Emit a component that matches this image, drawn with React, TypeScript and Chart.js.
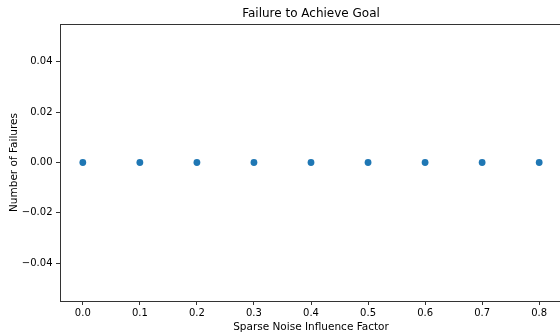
import React, { useEffect, useRef } from "react";
import { Chart, registerables } from "chart.js";

Chart.register(...registerables);

const noiseFactors = [0.0, 0.1, 0.2, 0.3, 0.4, 0.5, 0.6, 0.7, 0.8];
const failures = [0, 0, 0, 0, 0, 0, 0, 0, 0];
const xTicks = [0.0, 0.1, 0.2, 0.3, 0.4, 0.5, 0.6, 0.7, 0.8];
const yTicks = [-0.04, -0.02, 0.0, 0.02, 0.04];

const FONT = "'DejaVu Sans', sans-serif";
const INK = "#333333";

const framePlugin = {
  id: "frame",
  afterDraw(chart: any) {
    const { ctx, chartArea } = chart;
    ctx.save();
    ctx.strokeStyle = INK;
    ctx.lineWidth = 1;
    ctx.beginPath();
    ctx.moveTo(chartArea.left, chartArea.top + 0.5);
    ctx.lineTo(chartArea.right, chartArea.top + 0.5);
    ctx.moveTo(chartArea.right - 0.5, chartArea.top);
    ctx.lineTo(chartArea.right - 0.5, chartArea.bottom);
    ctx.stroke();
    ctx.restore();
  },
};

export default function App() {
  const ref = useRef<HTMLCanvasElement>(null);
  useEffect(() => {
    if (!ref.current) return;
    const chart = new Chart(ref.current, {
      type: "scatter",
      data: {
        datasets: [
          {
            data: noiseFactors.map((x, i) => ({ x, y: failures[i] })),
            backgroundColor: "#1f77b4",
            borderColor: "#1f77b4",
            pointRadius: 3.4,
            borderWidth: 0,
          },
        ],
      },
      options: {
        animation: false,
        responsive: false,
        maintainAspectRatio: false,
        layout: { padding: { left: 0, right: 38, top: 0, bottom: 0 } },
        plugins: {
          legend: { display: false },
          tooltip: { enabled: false },
          title: { display: false },
        },
        scales: {
          x: {
            type: "linear",
            min: -0.04,
            max: 0.84,
            afterBuildTicks: (s: any) => {
              s.ticks = xTicks.map((v) => ({ value: v }));
            },
            afterFit: (s: any) => {
              s.height = 34;
            },
            ticks: {
              color: "#000",
              font: { family: FONT, size: 10 },
              padding: 2,
              maxRotation: 0,
              autoSkip: false,
              callback: (v: any) => Number(v).toFixed(1),
            },
            grid: {
              drawOnChartArea: false,
              drawTicks: true,
              tickLength: 4,
              tickColor: INK,
              tickWidth: 1,
            },
            border: { display: true, color: INK, width: 1 },
            title: {
              display: true,
              text: "Sparse Noise Influence Factor",
              color: "#000",
              font: { family: FONT, size: 10.5 },
              padding: { top: 0, bottom: 1.5 },
            },
          },
          xTop: {
            type: "linear",
            position: "top",
            min: -0.04,
            max: 0.84,
            afterFit: (s: any) => {
              s.height = 24;
            },
            ticks: { display: false },
            grid: { display: false, drawTicks: false },
            border: { display: false },
            title: {
              display: true,
              text: "Failure to Achieve Goal",
              color: "#000",
              font: { family: FONT, size: 12 },
              padding: { top: 6.8, bottom: 0 },
            },
          },
          y: {
            type: "linear",
            min: -0.055,
            max: 0.055,
            afterBuildTicks: (s: any) => {
              s.ticks = yTicks.map((v) => ({ value: v }));
            },
            afterFit: (s: any) => {
              s.width = 60;
            },
            ticks: {
              color: "#000",
              font: { family: FONT, size: 10 },
              padding: 3.5,
              autoSkip: false,
              callback: (v: any) => {
                const s = Number(v).toFixed(2);
                return Number(v) < 0 ? "\u2212" + s.slice(1) : s;
              },
            },
            grid: {
              drawOnChartArea: false,
              drawTicks: true,
              tickLength: 4,
              tickColor: INK,
              tickWidth: 1,
            },
            border: { display: true, color: INK, width: 1 },
            title: {
              display: true,
              text: "Number of Failures",
              color: "#000",
              font: { family: FONT, size: 10.5 },
              padding: { top: 8, bottom: 0 },
            },
          },
        },
      },
      plugins: [framePlugin],
    });
    return () => chart.destroy();
  }, []);

  return (
    <div style={{ position: "fixed", left: 0, top: 0, width: 600, height: 335, background: "#fff" }}>
      <canvas ref={ref} width={600} height={335} style={{ width: 600, height: 335, display: "block" }} />
    </div>
  );
}
